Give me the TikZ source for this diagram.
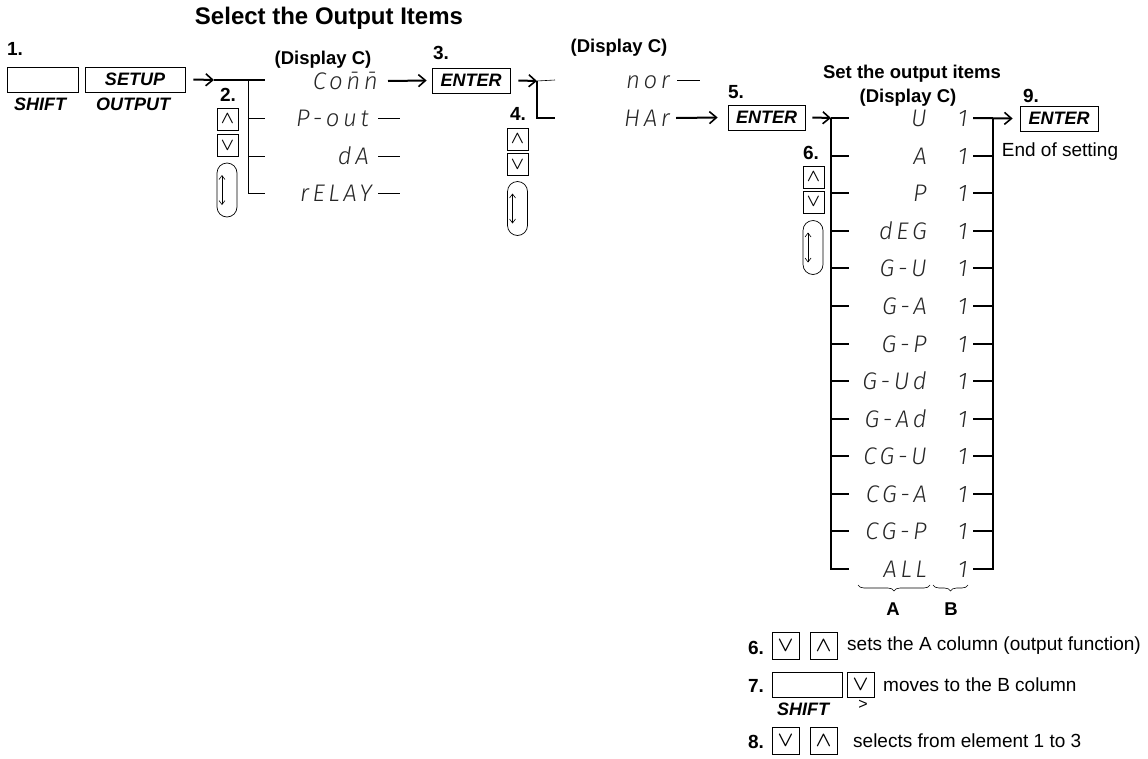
\documentclass[tikz,border=0pt]{standalone}
\usepackage{fontspec}
\setmainfont{Liberation Sans}
\newfontfamily\segfont{Fira Sans Light Italic}[LetterSpace=15]
\usetikzlibrary{arrows.meta,decorations.pathreplacing}

\newcommand{\keyup}{{\boldmath$\wedge$}}
\newcommand{\keydn}{{\boldmath$\vee$}}

\begin{document}
\begin{tikzpicture}[x=1pt, y=-1pt,
  thinln/.style={line width=0.6pt},
  thickln/.style={line width=2pt},
  arr/.style={line width=2pt, -{Straight Barb[length=7pt,width=12pt,line width=1.6pt]}},
  key/.style={draw, line width=0.7pt, inner sep=0pt, minimum height=25pt, font=\fontsize{18}{18}\selectfont\bfseries\itshape},
  updn/.style={draw, line width=0.7pt, inner sep=0pt, minimum width=21pt, minimum height=22pt, font=\fontsize{17.28}{17.28}\selectfont},
  bigkey/.style={updn, minimum width=27pt, minimum height=27pt, font=\fontsize{20.74}{20.74}\selectfont},
  roller/.style={draw, line width=0.7pt, rounded corners=10pt, minimum width=20pt, minimum height=54pt, inner sep=0pt},
  rolarr/.style={line width=0.6pt, {Straight Barb[length=4pt,width=6pt]}-{Straight Barb[length=4pt,width=6pt]}},
  stepno/.style={font=\fontsize{19}{19}\selectfont\bfseries},
  head/.style={font=\fontsize{18.5}{18.5}\selectfont\bfseries},
  keylbl/.style={font=\fontsize{18}{18}\selectfont\bfseries\itshape},
  seg/.style={anchor=east, inner sep=0pt, text height=17pt, text depth=0pt, text=black!85, font=\segfont\fontsize{24}{24}\selectfont},
  note/.style={anchor=west, inner sep=0pt, font=\fontsize{19}{19}\selectfont}]
\useasboundingbox (0,0) rectangle (1148,758);

\node[font=\fontsize{24}{24}\selectfont\bfseries] (title) at (329,18) {Select the Output Items};

% step 1
\node[stepno] (n1) at (15,49) {1.};
\node[key, minimum width=71pt] (shift1) at (42.5,79.5) {};
\node[key, minimum width=100pt] (setup) at (135,79.5) {SETUP};
\node[keylbl] (shl1) at (40,104) {SHIFT};
\node[keylbl] (outl1) at (133,104) {OUTPUT};

% step 2
\node[head] (disp1) at (323,60) {(Display C)};
\coordinate (j2) at (214,80);
\draw[arr] ([xshift=8pt]setup.east) -- (j2);
\draw[thickln] (j2) -- (265,80);
\draw[thinln] (248,80) |- (265,193);
\draw[thinln] (248,118) -- (265,118);
\draw[thinln] (248,156) -- (265,156);
\node[seg] (comm) at (378,81) {Co\={n}\={n}};
\node[seg] (pout) at (369,118) {P-out};
\node[seg] (da) at (369,156) {dA};
\node[seg] (relay) at (372,193) {rELAY};
\draw[thinln] ([xshift=9pt]pout.east) -- ++(22,0);
\draw[thinln] ([xshift=9pt]da.east) -- ++(22,0);
\draw[thinln] ([xshift=6pt]relay.east) -- ++(22,0);
\node[stepno] (n2) at (228,95) {2.};
\node[updn] (up2) at (227.5,119) {\keyup};
\node[updn] (dn2) at (227.5,145.5) {\keydn};
\node[roller] (rol2) at (227,190) {};
\draw[rolarr] ([xshift=-5pt,yshift=15pt]rol2.center) -- ([xshift=-5pt,yshift=-15pt]rol2.center);

% step 3
\node[stepno] (n3) at (441,53) {3.};
\node[key, minimum width=78pt] (enter1) at (471,80.5) {ENTER};
\draw[arr] ([xshift=10pt]comm.east) -- ([xshift=-5pt]enter1.west);

% step 4
\node[head] (disp2) at (619,48) {(Display C)};
\coordinate (j4) at (537,81);
\draw[arr] ([xshift=8pt]enter1.east) -- (j4);
\draw[thinln] (j4) -- (555,80);
\draw[thickln] (j4) |- (555,118);
\node[seg] (nor) at (670,80) {nor};
\node[seg] (har) at (670,118) {HAr};
\draw[thinln] ([xshift=7pt]nor.east) -- ++(23,0);
\node[stepno] (n4) at (518,114) {4.};
\node[updn] (up4) at (517.5,139) {\keyup};
\node[updn] (dn4) at (517.5,164.5) {\keydn};
\node[roller] (rol4) at (517.5,208.5) {};
\draw[rolarr] ([xshift=-5pt,yshift=15pt]rol4.center) -- ([xshift=-5pt,yshift=-15pt]rol4.center);

% step 5
\node[stepno] (n5) at (736,92) {5.};
\node[key, minimum width=77pt] (enter2) at (766.5,117.5) {ENTER};
\draw[arr] ([xshift=6pt]har.east) -- ([xshift=-10pt]enter2.west);

% steps 6 to 8: the output item list
\node[head] (setitems) at (912,74) {Set the output items};
\node[head] (disp3) at (908,98) {(Display C)};
\coordinate (lt) at (831,118);
\draw[arr] ([xshift=7pt]enter2.east) -- (lt);
\draw[thickln] (lt) -- (831,569) -- (849,569);
\draw[thickln] (973,569) -- (993,569) -- (993,118);
\foreach \a [count=\i from 0] in {U,A,P,dEG,G-U,G-A,G-P,G-Ud,G-Ad,CG-U,CG-A,CG-P,ALL}{
  \pgfmathsetmacro{\yy}{118+\i*37.583}
  \node[seg] (a\i) at (927,\yy) {\a};
  \node[seg] (b\i) at (968,\yy) {1};
  \draw[thickln] (831,\yy) -- (849,\yy);
  \draw[thickln] (973,\yy) -- (993,\yy);
}
\draw[thinln, decorate, decoration={brace, amplitude=6pt}] (930,585) -- (858,585);
\draw[thinln, decorate, decoration={brace, amplitude=6pt}] (968,585) -- (933,585);
\node[head] (la) at (893,609) {A};
\node[head] (lb) at (951,609) {B};
\node[stepno] (n6) at (811,153) {6.};
\node[updn] (up6) at (813.5,177) {\keyup};
\node[updn] (dn6) at (813.5,202) {\keydn};
\node[roller] (rol6) at (813,247.5) {};
\draw[rolarr] ([xshift=-5pt,yshift=15pt]rol6.center) -- ([xshift=-5pt,yshift=-15pt]rol6.center);

% step 9
\node[stepno] (n9) at (1031,96) {9.};
\node[key, minimum width=78pt] (enter3) at (1059,118.5) {ENTER};
\draw[arr] (973,118) -- ([xshift=-7pt]enter3.west);
\node[note, anchor=center] (endset) at (1060,152) {End of setting};

% key notes
\node[stepno] (n6b) at (756,648) {6.};
\node[bigkey] (dn6b) at (785.5,646) {\keydn};
\node[bigkey] (up6b) at (823.5,646) {\keyup};
\node[note] (t6) at (847,646) {sets the A column (output function)};
\node[stepno] (n7b) at (756,686) {7.};
\node[key, minimum width=70pt] (shift7) at (807,684.5) {};
\node[bigkey, minimum height=25pt] (dn7b) at (860.5,684.5) {\keydn};
\node[note] (t7) at (883,685) {moves to the B column};
\node[keylbl] (shl7) at (803,709) {SHIFT};
\node[font=\fontsize{16}{16}\selectfont] (gt7) at (863,705) {>};
\node[stepno] (n8b) at (756,742) {8.};
\node[bigkey] (dn8b) at (785.5,741) {\keydn};
\node[bigkey] (up8b) at (823.5,741) {\keyup};
\node[note] (t8) at (853,741) {selects from element 1 to 3};
\end{tikzpicture}
\end{document}
